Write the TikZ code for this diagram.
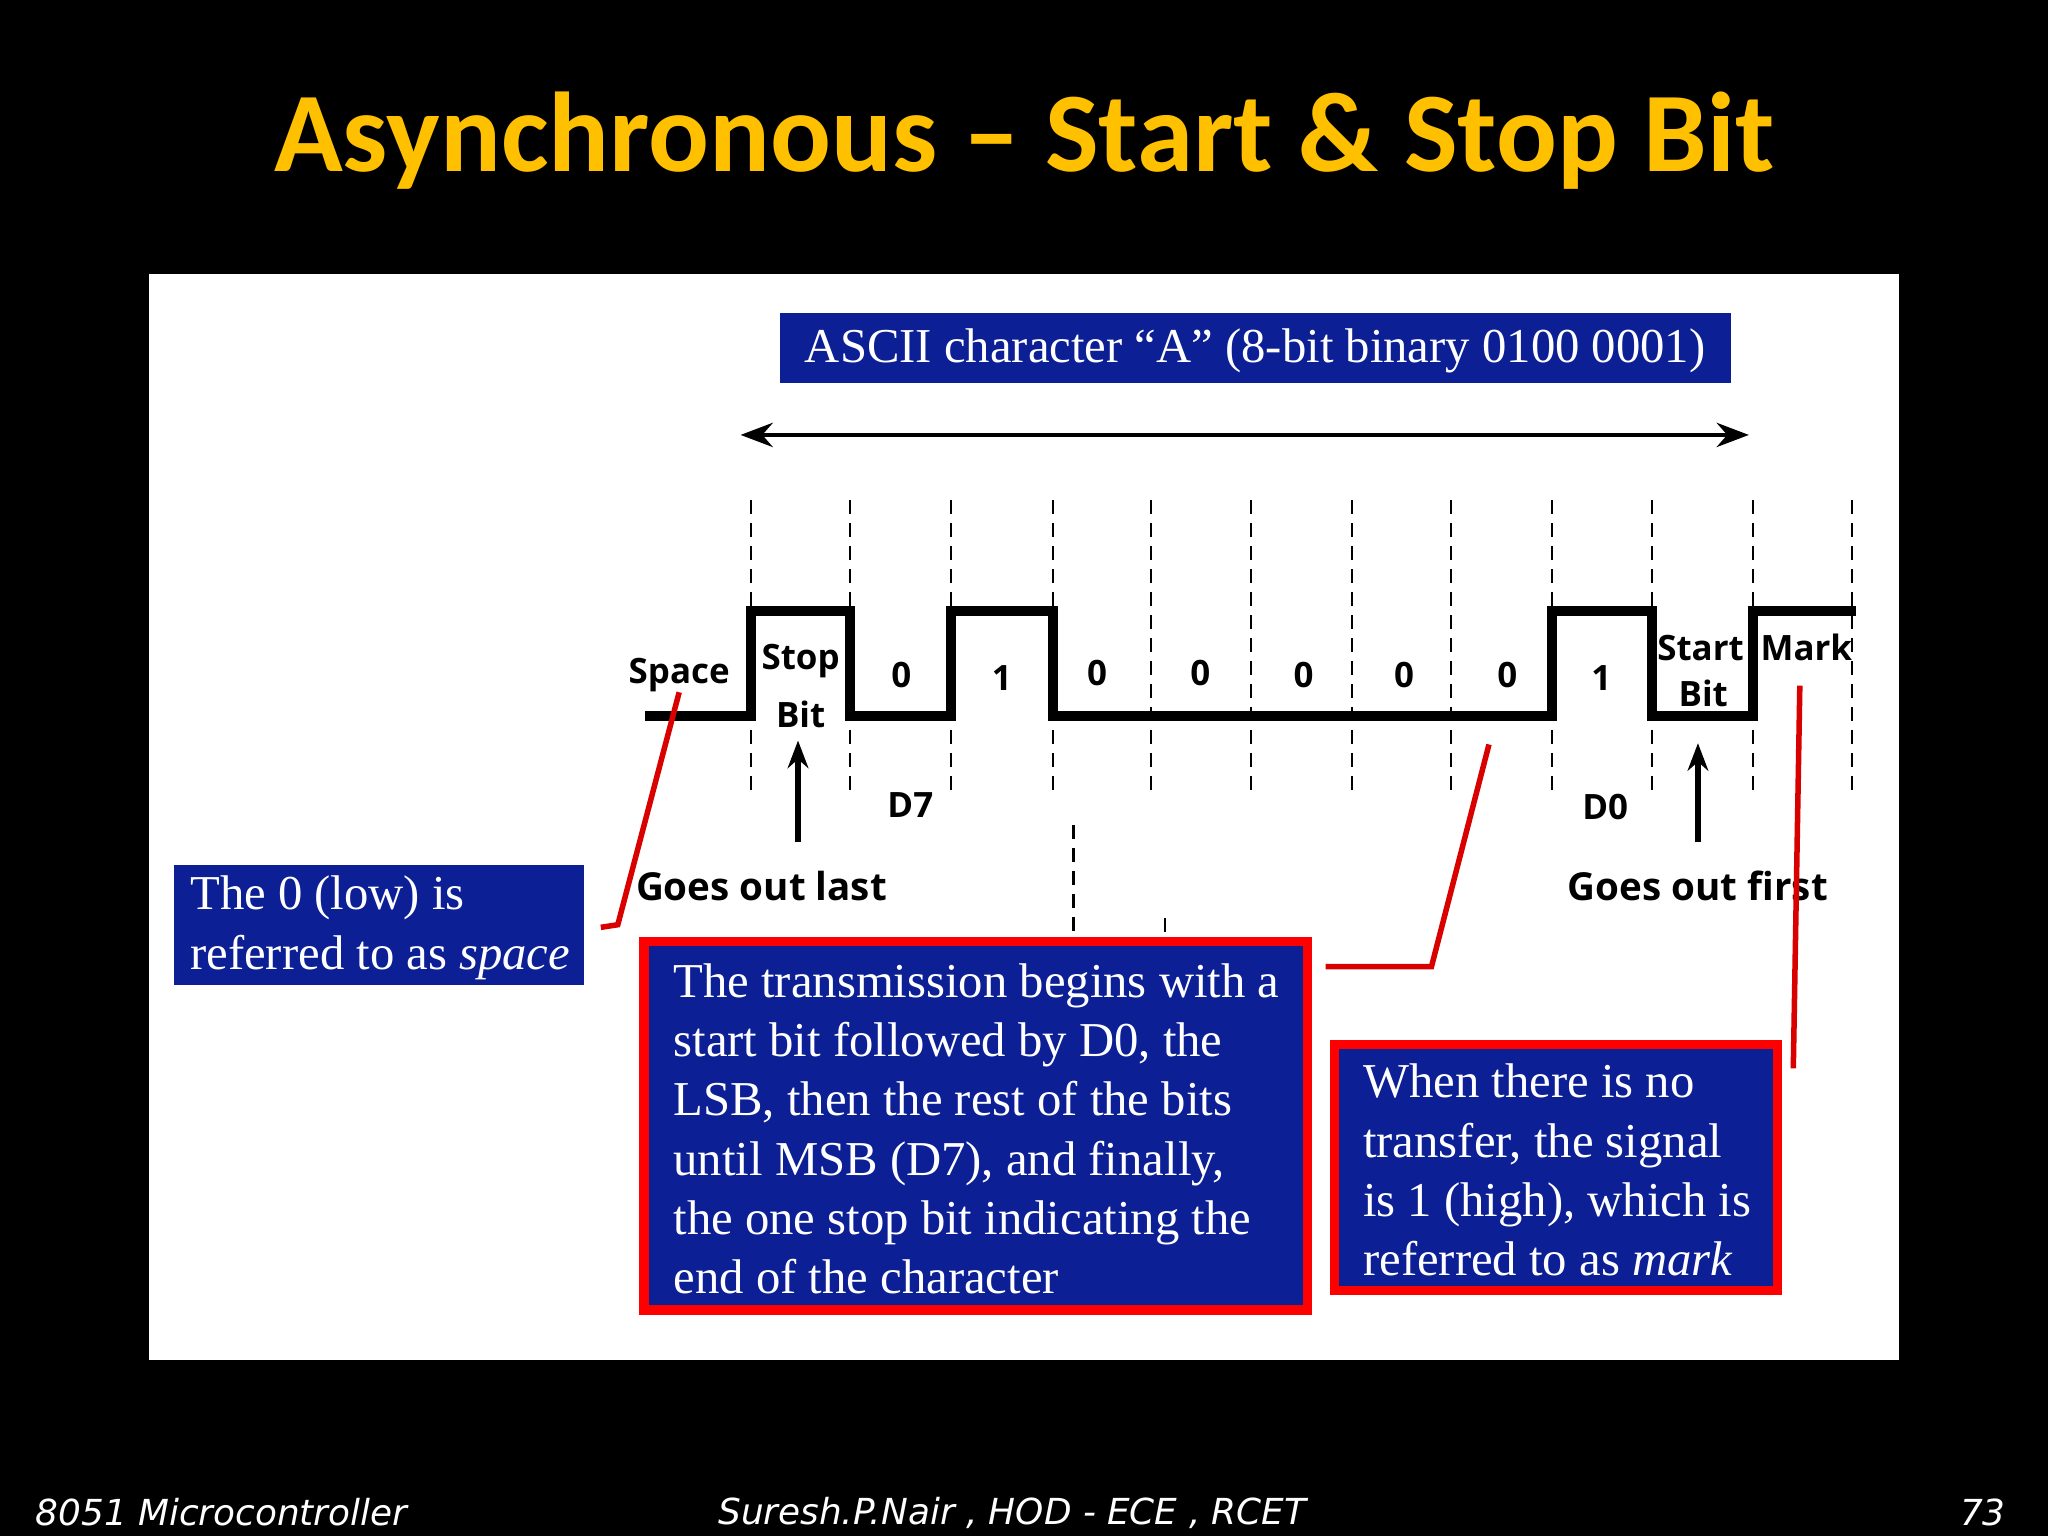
\documentclass[tikz,border=0pt]{standalone}
\usepackage{fontspec}
\setmainfont{Liberation Serif}
\newfontfamily\titlefont{Carlito}
\newfontfamily\lblfont{Open Sans}
\newfontfamily\footfont{DejaVu Sans}
\usetikzlibrary{arrows.meta}
\definecolor{ttl}{HTML}{FFC000}
\definecolor{bbox}{HTML}{0C1F95}
\begin{document}
\begin{tikzpicture}[x=0.01cm,y=-0.01cm,
  lbl/.style={font=\lblfont\bfseries\fontsize{7.6}{9}\selectfont,inner sep=0pt},
  biglbl/.style={font=\lblfont\bfseries\fontsize{8.4}{10}\selectfont,inner sep=0pt},
  bluebox/.style={fill=bbox,text=white,font=\fontsize{10.6}{12.9}\selectfont,align=left,anchor=north west,inner sep=0pt},
  redline/.style={draw=red!85!black,line width=1.2pt},
  grid/.style={dashed,line width=0.5pt,dash pattern=on 3pt off 2pt}]
\fill[black] (0,0) rectangle (1568,1176);
\useasboundingbox (0,0) rectangle (1568,1176);
\node[text=ttl,font=\titlefont\bfseries\fontsize{24.7}{30}\selectfont] (title) at (784,108) {Asynchronous – Start \& Stop Bit};
\fill[white] (114,210) rectangle (1454,1041);
% top box
\fill[bbox] (597,240) rectangle (1325,293);
\node[text=white,font=\fontsize{10.6}{12}\selectfont] (ascii) at (961,269) {ASCII character “A” (8-bit binary 0100 0001)};
\coordinate (al) at (567,333); \coordinate (ar) at (1339,333);
\draw[{Stealth[length=7pt]}-{Stealth[length=7pt]},line width=1pt] (al) -- (ar);
% dashed grid
\foreach \x in {575,651,728,806,881,958,1035,1111,1188,1265,1342,1418}
  \draw[grid] (\x,383) -- (\x,608);
\draw[grid] (822,632) -- (822,745);
\draw[grid] (892,703) -- (892,760);
% waveform
\draw[line width=2.2pt] (494,548) -- (575,548) -- (575,468) -- (651,468) -- (651,548) -- (728,548) -- (728,468) -- (806,468) -- (806,548) -- (1188,548) -- (1188,468) -- (1265,468) -- (1265,548) -- (1342,548) -- (1342,468) -- (1421,468);
% labels
\node[lbl] (space) at (520,517) {Space};
\node[lbl] (stop) at (613,506) {Stop};
\node[lbl] (stopbit) at (613,547) {Bit};
\node[lbl] (b7) at (690,517) {0};
\node[lbl] (b6) at (767,519) {1};
\node[lbl] (b5) at (840,515) {0};
\node[lbl] (b4) at (919,515) {0};
\node[lbl] (b3) at (998,517) {0};
\node[lbl] (b2) at (1075,517) {0};
\node[lbl] (b1) at (1154,517) {0};
\node[lbl] (b0) at (1226,519) {1};
\node[lbl] (start) at (1302,496) {Start};
\node[lbl] (startbit) at (1304,531) {Bit};
\node[lbl] (mark) at (1383,496) {Mark};
\node[lbl] (d7) at (697,616) {D7};
\node[lbl] (d0) at (1229,618) {D0};
\node[biglbl] (last) at (583,678) {Goes out last};
\node[biglbl] (first) at (1300,678) {Goes out first};
\coordinate (la) at (611,645); \coordinate (lb) at (611,567);
\coordinate (fa) at (1300,645); \coordinate (fb) at (1300,569);
\draw[-{Stealth[length=6pt]},line width=1.2pt] (la) -- (lb);
\draw[-{Stealth[length=6pt]},line width=1.2pt] (fa) -- (fb);
% boxes
\fill[bbox] (133,662) rectangle (447,754);
\node[bluebox] (lowbox) at (145,670) {The 0 (low) is\\referred to as \textit{space}};
\draw[fill=bbox,draw=red,line width=2pt] (493,721) rectangle (1001,1003);
\node[bluebox] (midbox) at (515,737) {The transmission begins with a\\start bit followed by D0, the\\LSB, then the rest of the bits\\until MSB (D7), and finally,\\the one stop bit indicating the\\end of the character};
\draw[fill=bbox,draw=red,line width=2pt] (1022,800) rectangle (1361,988);
\node[bluebox] (markbox) at (1043,814) {When there is no\\transfer, the signal\\is 1 (high), which is\\referred to as \textit{mark}};
% red pointers
\draw[redline] (520,530) -- (473,708) -- (460,710);
\draw[redline] (1140,570) -- (1096,740) -- (1015,740);
\draw[redline] (1378,525) -- (1373,818);
% footer
\node[text=white,anchor=west,font=\footfont\itshape\fontsize{7.8}{9}\selectfont] (f1) at (15,1158) {8051 Microcontroller};
\node[text=white,font=\footfont\itshape\fontsize{7.8}{9}\selectfont] (f2) at (775,1158) {Suresh.P.Nair , HOD - ECE , RCET};
\node[text=white,anchor=east,font=\footfont\itshape\fontsize{7.8}{9}\selectfont] (f3) at (1548,1158) {73};
\end{tikzpicture}
\end{document}
